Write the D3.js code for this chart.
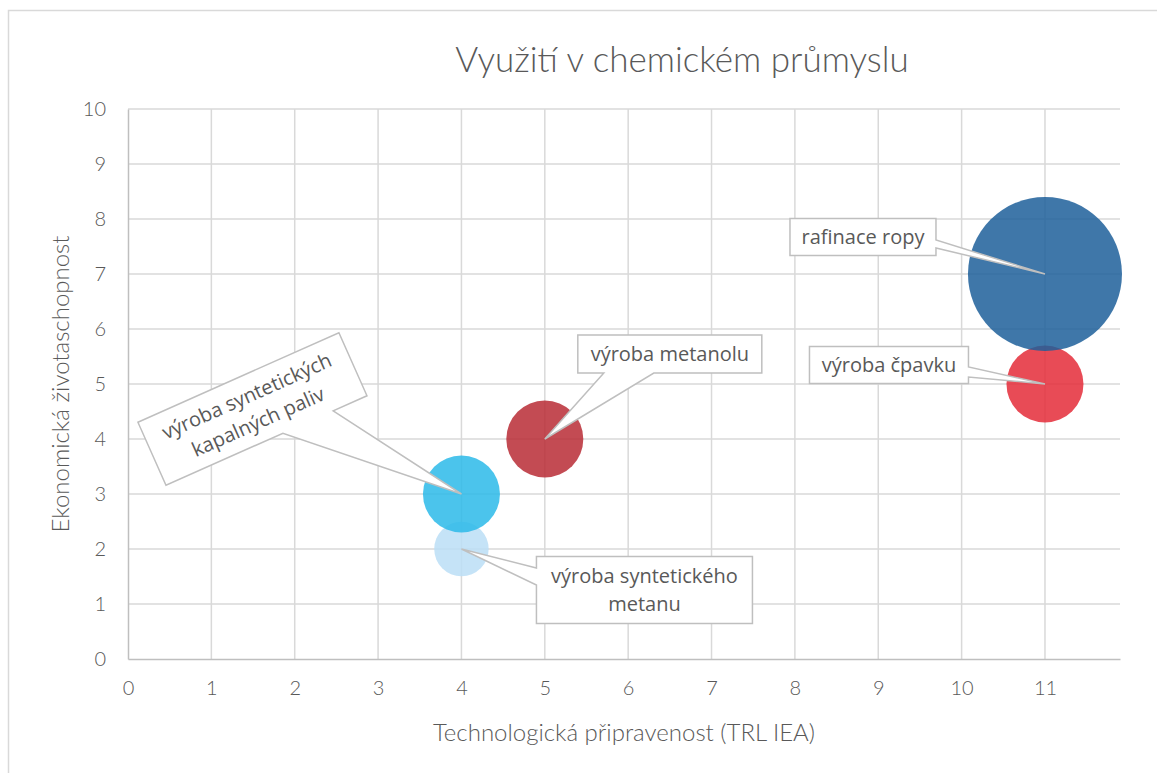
<!DOCTYPE html>
<html>
<head>
<meta charset="utf-8">
<script src="https://cdn.jsdelivr.net/npm/d3@7"></script>
<style>
  body { margin: 0; background: #fff; }
  svg { display: block; }
</style>
</head>
<body>
<div id="chart"></div>
<script>
// chart data
var categories = ["výroba syntetického metanu", "výroba syntetických kapalných paliv", "výroba metanolu", "výroba čpavku", "rafinace ropy"];
var trl = [4, 4, 5, 11, 11];
var econ = [2, 3, 4, 5, 7];
var bubbleSize = [0.5, 1, 1, 1, 4];
var xTicks = [0, 1, 2, 3, 4, 5, 6, 7, 8, 9, 10, 11];
var yTicks = [0, 1, 2, 3, 4, 5, 6, 7, 8, 9, 10];

var colors = ["#bbdef6", "#2bbae9", "#b92b35", "#e42c38", "#1d5f9a"];

// label boxes: offset of box centre from the bubble centre, size, rotation,
// side of the box where the pointer starts and the pointer base (along that side)
var labelLayout = [
  { lines: ["výroba syntetického", "metanu"], dx: 183, dy: 41, w: 216, h: 67, angle: 0, side: "left", b: [-22, -5] },
  { lines: ["výroba syntetických", "kapalných paliv"], dx: -209, dy: -85, w: 220, h: 69, angle: -24, side: "bottom", b: [18, 73] },
  { lines: ["výroba metanolu"], dx: 125, dy: -85, w: 184, h: 38, angle: 0, side: "bottom", b: [-66, -16] },
  { lines: ["výroba čpavku"], dx: -156, dy: -19, w: 159, h: 37, angle: 0, side: "right", b: [2, 12] },
  { lines: ["rafinace ropy"], dx: -182, dy: -37, w: 146, h: 37, angle: 0, side: "right", b: [3, 11] }
];

var W = 1157, H = 773;
var margin = { top: 109, right: 37, bottom: 114, left: 128 },
  width = W - margin.left - margin.right,
  height = H - margin.top - margin.bottom;

var svg = d3.select("#chart")
  .append("svg")
  .attr("width", W)
  .attr("height", H);

// chart border
svg.append("path")
  .attr("d", "M8.5," + H + "V10.5H" + W)
  .attr("fill", "none")
  .attr("stroke", "#d9d9d9")
  .attr("stroke-width", 1.5);

var g = svg.append("g")
  .attr("transform", "translate(" + margin.left + "," + margin.top + ")");

var x = d3.scaleLinear().domain([0, 11.9]).range([0, width]);
var y = d3.scaleLinear().domain([0, 10]).range([height, 0]);
var r = d3.scaleSqrt().domain([0, 4]).range([0, 77]);

// gridlines
g.append("g")
  .selectAll("line")
  .data(yTicks.slice(1))
  .enter().append("line")
  .attr("x1", 0).attr("x2", width)
  .attr("y1", function (d) { return y(d); })
  .attr("y2", function (d) { return y(d); })
  .attr("stroke", "#d9d9d9")
  .attr("stroke-width", 1.5);

g.append("g")
  .selectAll("line")
  .data(xTicks.slice(1))
  .enter().append("line")
  .attr("y1", 0).attr("y2", height)
  .attr("x1", function (d) { return x(d); })
  .attr("x2", function (d) { return x(d); })
  .attr("stroke", "#d9d9d9")
  .attr("stroke-width", 1.5);

// axes
var xAxis = g.append("g")
  .attr("transform", "translate(0," + height + ")")
  .call(d3.axisBottom(x).tickValues(xTicks).tickSize(0).tickPadding(22));
xAxis.select(".domain").attr("stroke", "#bfbfbf").attr("stroke-width", 1.5);

var yAxis = g.append("g")
  .call(d3.axisLeft(y).tickValues(yTicks).tickSize(0).tickPadding(22));
yAxis.select(".domain").attr("stroke", "#bfbfbf").attr("stroke-width", 1.5);

g.selectAll(".tick text")
  .attr("fill", "#595959")
  .style("font-family", "Lato, sans-serif")
  .style("font-weight", 300)
  .style("font-size", "20px");

// bubbles
var bubbles = categories.map(function (c, i) {
  return { name: c, x: trl[i], y: econ[i], s: bubbleSize[i], color: colors[i], label: labelLayout[i] };
});

g.append("g")
  .selectAll("circle")
  .data(bubbles)
  .enter().append("circle")
  .attr("cx", function (d) { return x(d.x); })
  .attr("cy", function (d) { return y(d.y); })
  .attr("r", function (d) { return r(d.s); })
  .attr("fill", function (d) { return d.color; })
  .attr("fill-opacity", 0.85);

// callout path in local (box) coordinates
function calloutPath(L, tx, ty) {
  var hw = L.w / 2, hh = L.h / 2, b = L.b;
  var p = [];
  p.push([-hw, -hh]);
  if (L.side === "top") { p.push([b[0], -hh], [tx, ty], [b[1], -hh]); }
  p.push([hw, -hh]);
  if (L.side === "right") { p.push([hw, b[0]], [tx, ty], [hw, b[1]]); }
  p.push([hw, hh]);
  if (L.side === "bottom") { p.push([b[1], hh], [tx, ty], [b[0], hh]); }
  p.push([-hw, hh]);
  if (L.side === "left") { p.push([-hw, b[1]], [tx, ty], [-hw, b[0]]); }
  return "M" + p.map(function (q) { return q[0] + "," + q[1]; }).join("L") + "Z";
}

var labels = g.append("g")
  .selectAll("g")
  .data(bubbles)
  .enter().append("g")
  .attr("transform", function (d) {
    return "translate(" + (x(d.x) + d.label.dx) + "," + (y(d.y) + d.label.dy) + ") rotate(" + d.label.angle + ")";
  });

labels.append("path")
  .attr("d", function (d) {
    var L = d.label;
    var a = -L.angle * Math.PI / 180;
    var rx = -L.dx, ry = -L.dy;
    var tx = rx * Math.cos(a) - ry * Math.sin(a);
    var ty = rx * Math.sin(a) + ry * Math.cos(a);
    return calloutPath(L, tx, ty);
  })
  .attr("fill", "#fff")
  .attr("stroke", "#bfbfbf")
  .attr("stroke-width", 1.5)
  .attr("stroke-linejoin", "miter");

labels.each(function (d) {
  var n = d.label.lines.length;
  var t = d3.select(this).append("text")
    .attr("text-anchor", "middle")
    .attr("fill", "#595959")
    .style("font-family", "'Open Sans', sans-serif")
    .style("font-size", "20px");
  d.label.lines.forEach(function (line, i) {
    t.append("tspan")
      .attr("x", 0)
      .attr("y", (i - (n - 1) / 2) * 28 + 7)
      .text(line);
  });
});

// title
svg.append("text")
  .attr("x", 682)
  .attr("y", 72)
  .attr("text-anchor", "middle")
  .attr("fill", "#595959")
  .style("font-family", "Lato, sans-serif")
  .style("font-weight", 300)
  .style("font-size", "35px")
  .text("Využití v chemickém průmyslu");

// axis titles
svg.append("text")
  .attr("x", margin.left + width / 2)
  .attr("y", 741)
  .attr("text-anchor", "middle")
  .attr("fill", "#595959")
  .style("font-family", "Lato, sans-serif")
  .style("font-weight", 300)
  .style("font-size", "24px")
  .text("Technologická připravenost (TRL IEA)");

svg.append("text")
  .attr("transform", "translate(69," + (margin.top + height / 2) + ") rotate(-90)")
  .attr("text-anchor", "middle")
  .attr("fill", "#595959")
  .style("font-family", "Lato, sans-serif")
  .style("font-weight", 300)
  .style("font-size", "24px")
  .text("Ekonomická životaschopnost");
</script>
</body>
</html>
